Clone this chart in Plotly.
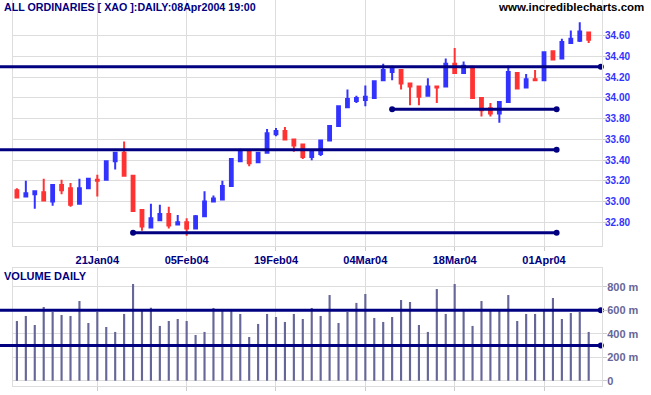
import plotly.graph_objects as go

# ---------------- data ----------------
dates = [
    "2004-01-08", "2004-01-09", "2004-01-12", "2004-01-13", "2004-01-14", "2004-01-15", "2004-01-16",
    "2004-01-19", "2004-01-20", "2004-01-21", "2004-01-22", "2004-01-23", "2004-01-27", "2004-01-28",
    "2004-01-29", "2004-01-30", "2004-02-02", "2004-02-03", "2004-02-04", "2004-02-05", "2004-02-06",
    "2004-02-09", "2004-02-10", "2004-02-11", "2004-02-12", "2004-02-13", "2004-02-16", "2004-02-17",
    "2004-02-18", "2004-02-19", "2004-02-20", "2004-02-23", "2004-02-24", "2004-02-25", "2004-02-26",
    "2004-02-27", "2004-03-01", "2004-03-02", "2004-03-03", "2004-03-04", "2004-03-05", "2004-03-08",
    "2004-03-09", "2004-03-10", "2004-03-11", "2004-03-12", "2004-03-15", "2004-03-16", "2004-03-17",
    "2004-03-18", "2004-03-19", "2004-03-22", "2004-03-23", "2004-03-24", "2004-03-25", "2004-03-26",
    "2004-03-29", "2004-03-30", "2004-03-31", "2004-04-01", "2004-04-02", "2004-04-05", "2004-04-06",
    "2004-04-07", "2004-04-08",
]
opens = [33.11, 33.05, 33.07, 33.09, 33.00, 33.16, 33.13, 32.98, 33.13, 33.21,
         33.21, 33.39, 33.47, 33.25, 32.92, 32.75, 32.82, 32.88, 32.78, 32.80,
         32.74, 32.86, 33.00, 33.02, 33.15, 33.39, 33.48, 33.38, 33.47, 33.65,
         33.68, 33.60, 33.55, 33.43, 33.46, 33.59, 33.73, 33.91, 33.97, 33.98,
         34.00, 34.17, 34.25, 34.27, 34.14, 34.11, 34.02, 34.11, 34.11, 34.33,
         34.24, 34.30, 34.00, 33.90, 33.85, 33.96, 34.24, 34.10, 34.18, 34.17,
         34.45, 34.38, 34.53, 34.55, 34.63]
highs = [33.13, 33.20, 33.11, 33.22, 33.16, 33.21, 33.18, 33.22, 33.23, 33.26,
         33.39, 33.48, 33.58, 33.25, 32.92, 32.98, 32.97, 32.95, 32.87, 32.84,
         32.87, 33.10, 33.06, 33.20, 33.42, 33.51, 33.48, 33.47, 33.70, 33.71,
         33.72, 33.60, 33.55, 33.50, 33.60, 33.73, 33.92, 34.08, 34.02, 34.12,
         34.16, 34.33, 34.31, 34.27, 34.14, 34.11, 34.19, 34.11, 34.38, 34.48,
         34.35, 34.30, 34.00, 33.95, 33.96, 34.31, 34.24, 34.23, 34.27, 34.44,
         34.45, 34.57, 34.65, 34.73, 34.63]
lows = [33.03, 33.05, 32.93, 33.01, 32.96, 33.07, 32.95, 32.98, 33.12, 33.05,
        33.21, 33.31, 33.25, 32.90, 32.72, 32.75, 32.82, 32.74, 32.78, 32.67,
        32.74, 32.86, 33.00, 33.02, 33.15, 33.38, 33.34, 33.38, 33.47, 33.63,
        33.60, 33.48, 33.41, 33.40, 33.44, 33.59, 33.73, 33.91, 33.95, 33.92,
        34.00, 34.17, 34.17, 34.08, 33.93, 33.93, 34.02, 33.95, 34.11, 34.24,
        34.24, 34.00, 33.82, 33.82, 33.76, 33.96, 34.08, 34.10, 34.17, 34.17,
        34.36, 34.38, 34.53, 34.54, 34.53]
closes = [33.04, 33.08, 33.10, 33.01, 33.16, 33.11, 32.97, 33.13, 33.22, 33.20,
          33.39, 33.47, 33.25, 32.91, 32.76, 32.84, 32.88, 32.77, 32.80, 32.74,
          32.86, 33.00, 33.03, 33.15, 33.41, 33.48, 33.37, 33.47, 33.66, 33.68,
          33.60, 33.54, 33.43, 33.48, 33.59, 33.73, 33.92, 33.99, 34.00, 34.01,
          34.16, 34.27, 34.28, 34.14, 34.11, 34.01, 34.11, 34.10, 34.33, 34.24,
          34.31, 34.00, 33.88, 33.85, 33.96, 34.25, 34.09, 34.18, 34.17, 34.44,
          34.37, 34.54, 34.57, 34.64, 34.56]
volumes_m = [508, 551, 474, 627, 585, 559, 551, 678, 491, 585,
             457, 415, 568, 823, 610, 621, 466, 508, 525, 508,
             389, 415, 619, 593, 610, 568, 372, 483, 568, 542,
             500, 568, 525, 619, 551, 729, 491, 585, 662, 738,
             534, 500, 542, 687, 670, 474, 415, 780, 568, 823,
             610, 466, 678, 610, 593, 729, 508, 568, 568, 593,
             704, 525, 576, 585, 415]

tick_dates = ["2004-01-21", "2004-02-05", "2004-02-19", "2004-03-04", "2004-03-18", "2004-04-01"]
tick_labels = ["21Jan04", "05Feb04", "19Feb04", "04Mar04", "18Mar04", "01Apr04"]
price_ticks = [32.80, 33.00, 33.20, 33.40, 33.60, 33.80, 34.00, 34.20, 34.40, 34.60]
volume_ticks = [0, 200, 400, 600, 800]
volume_tick_labels = ["0", "200 m", "400 m", "600 m", "800 m"]

# horizontal support / resistance levels (start None = from the left edge)
price_levels = [34.30, 33.50, 33.89, 32.70]
price_level_start = [None, None, "2004-03-09", "2004-01-28"]
price_level_end = [65.36, 60.41, 60.41, 60.41]
volume_levels = [600, 300]
volume_level_end = [65.36, 65.36]

# ---------------- styles ----------------
NAVY = "#000080"
BLUE = "#3333ff"
RED = "#ff3333"
VOLC = "#666699"
GRID = "#dddddd"
FONT = "Liberation Sans"

x = list(range(len(dates)))
tick_x = [dates.index(d) for d in tick_dates]
XR = [-0.437, 65.49]

def to_paper(v):
    return (v - XR[0]) / (XR[1] - XR[0])

LEFT_EDGE = -13 / 589

fig = go.Figure()

fig.add_trace(go.Candlestick(
    x=x, open=opens, high=highs, low=lows, close=closes,
    increasing=dict(line=dict(color=BLUE, width=2), fillcolor=BLUE),
    decreasing=dict(line=dict(color=RED, width=2), fillcolor=RED),
    whiskerwidth=0, xaxis="x", yaxis="y", hoverinfo="skip",
))

fig.add_trace(go.Bar(
    x=x, y=volumes_m, width=0.24, marker=dict(color=VOLC, line=dict(width=0)),
    xaxis="x2", yaxis="y2", hoverinfo="skip",
))

shapes = []
dots_x, dots_y = [], []
for lvl, st, en in zip(price_levels, price_level_start, price_level_end):
    if st is None:
        shapes.append(dict(type="line", xref="paper", yref="y", x0=LEFT_EDGE, x1=to_paper(en),
                           y0=lvl, y1=lvl, line=dict(color=NAVY, width=3)))
    else:
        sx = dates.index(st)
        shapes.append(dict(type="line", xref="x", yref="y", x0=sx, x1=en,
                           y0=lvl, y1=lvl, line=dict(color=NAVY, width=3)))
        dots_x.append(sx)
        dots_y.append(lvl)
    dots_x.append(en)
    dots_y.append(lvl)

vdots_x, vdots_y = [], []
for lvl, en in zip(volume_levels, volume_level_end):
    shapes.append(dict(type="line", xref="paper", yref="y2", x0=LEFT_EDGE, x1=to_paper(en),
                       y0=lvl, y1=lvl, line=dict(color=NAVY, width=3)))
    vdots_x.append(en)
    vdots_y.append(lvl)

fig.add_trace(go.Scatter(x=dots_x, y=dots_y, mode="markers", cliponaxis=False,
                         marker=dict(color=NAVY, size=6), xaxis="x", yaxis="y", hoverinfo="skip"))
fig.add_trace(go.Scatter(x=vdots_x, y=vdots_y, mode="markers", cliponaxis=False,
                         marker=dict(color=NAVY, size=6), xaxis="x2", yaxis="y2", hoverinfo="skip"))

axis_common = dict(showgrid=True, gridcolor=GRID, gridwidth=1, zeroline=False,
                   showline=True, linecolor=GRID, linewidth=1,
                   ticks="outside", ticklen=4, tickcolor="#cccccc")

fig.update_layout(
    width=651, height=395,
    margin=dict(l=13, r=49, t=0, b=9, autoexpand=False),
    paper_bgcolor="white", plot_bgcolor="white",
    showlegend=False,
    boxgap=0.55,
    shapes=shapes,
    xaxis=dict(domain=[0, 1], range=XR, anchor="y", tickvals=tick_x, ticktext=tick_labels,
               tickfont=dict(family=FONT, size=11, color=NAVY, weight="bold"),
               rangeslider=dict(visible=False), **axis_common),
    xaxis2=dict(domain=[0, 1], range=XR, anchor="y2", tickvals=tick_x, showticklabels=False,
                mirror=True, **axis_common),
    yaxis=dict(domain=[1 - 246 / 386, 1], range=[32.572, 34.944], side="right", anchor="x",
               tickvals=price_ticks, ticktext=["%.2f" % v for v in price_ticks],
               tickfont=dict(family=FONT, size=10, color=BLUE, weight="bold"),
               ticklabelstandoff=-4, mirror=True, **axis_common),
    yaxis2=dict(domain=[0, (386 - 268) / 386], range=[-45, 959], side="right", anchor="x2",
                tickvals=volume_ticks, ticktext=volume_tick_labels,
                tickfont=dict(family=FONT, size=11, color=VOLC, weight="bold"),
                ticklabelstandoff=-2, mirror=True, **axis_common),
    annotations=[
        dict(text="ALL ORDINARIES [ XAO ]:DAILY:08Apr2004 19:00", xref="paper", yref="paper",
             x=(2 - 13) / 589, y=1 - 7.5 / 386, xanchor="left", yanchor="middle", showarrow=False,
             font=dict(family=FONT, size=10.7, color=NAVY, weight="bold")),
        dict(text="www.incrediblecharts.com", xref="paper", yref="paper",
             x=(646 - 13) / 589, y=1 - 7 / 386, xanchor="right", yanchor="middle", showarrow=False,
             font=dict(family=FONT, size=11.5, color="black", weight="bold")),
        dict(text="VOLUME DAILY", xref="paper", yref="paper",
             x=(2 - 13) / 589, y=1 - 276 / 386, xanchor="left", yanchor="middle", showarrow=False,
             font=dict(family=FONT, size=11, color=NAVY, weight="bold")),
    ],
)

fig.write_html("out.html", config={"displayModeBar": False},
               post_script="document.body.style.margin='0';document.body.style.overflow='hidden';")
